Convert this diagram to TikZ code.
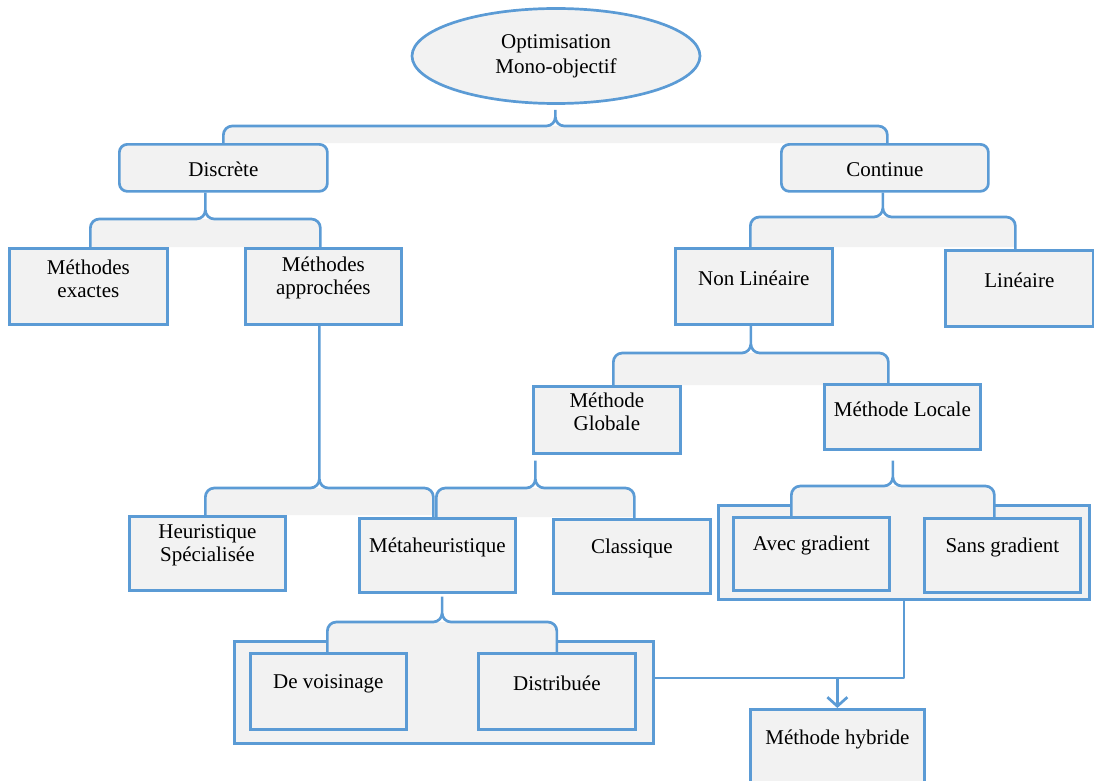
\documentclass[tikz,border=0pt]{standalone}
\usepackage{fontspec}
\setmainfont{Liberation Serif}
\usetikzlibrary{shapes.geometric,calc,arrows.meta,backgrounds}

\definecolor{lineblue}{HTML}{5B9BD5}
\definecolor{boxgray}{HTML}{F2F2F2}

% box content: fixed size, text centred and lifted a little towards the top
\newcommand\boxtext[3]{\parbox[c][#2pt][c]{#1pt}{\centering #3\par\vspace*{16pt}}}
% rectangular box: name, left, top, width, height, text
\newcommand\bnode[6]{\node[box] (#1) at (#2,-#3) {\boxtext{#4}{#5}{#6}};}
% brace from a parent down to two children:
% parent, left child, x offset, right child, x offset, bar depth, gap below parent
\newcommand\brc[7]{%
  \path[fill=boxgray] let \p1=($(#2.north)+(#3,0)$), \p2=($(#4.north)+(#5,0)$) in
    (\x1,\y1) -- (\x1,{-#6pt-9pt}) to[out=90,in=180] ({\x1+9pt},-#6pt)
    -- ({\x2-9pt},-#6pt) to[out=0,in=90] (\x2,{-#6pt-9pt}) -- (\x2,\y1) -- cycle;
  \draw[link] let \p1=($(#2.north)+(#3,0)$), \p2=($(#4.north)+(#5,0)$),
      \p3=(#1.south), \p4=($(\p1)!0.5!(\p2)$) in
    (\x1,\y1) -- (\x1,{-#6pt-9pt}) to[out=90,in=180] ({\x1+9pt},-#6pt)
    -- ({\x4-9pt},-#6pt) to[out=0,in=-90] (\x4,{-#6pt+9pt})
    to[out=-90,in=180] ({\x4+9pt},-#6pt)
    -- ({\x2-9pt},-#6pt) to[out=0,in=90] (\x2,{-#6pt-9pt}) -- (\x2,\y2)
    (\x4,{-#6pt+9pt}) -- (\x4,{\y3-#7pt});
}

\begin{document}
\begin{tikzpicture}[x=1pt,y=1pt,
  every node/.style={font=\fontsize{21}{23}\selectfont, text=black},
  link/.style={draw=lineblue, line width=2.7pt, line join=round},
  box/.style={draw=lineblue, fill=boxgray, line width=2.7pt, inner sep=0pt, anchor=north west},
  rbox/.style={box, rounded corners=8pt, text height=19pt, text depth=1pt},
  group/.style={box},
  root/.style={ellipse, draw=lineblue, fill=boxgray, line width=2.7pt, inner sep=0pt,
    minimum width=288, minimum height=95, align=center,
    font=\fontsize{21}{25}\selectfont}]
\useasboundingbox (0,0) rectangle (1094,-781);

% root and first level
\node[root] (opt) at (556,-56) {Optimisation\\Mono-objectif};
\node[rbox, minimum width=208, minimum height=47] (dis) at (118,-143) {Discrète};
\node[rbox, minimum width=207, minimum height=47] (con) at (780,-143) {Continue};

% second level
\bnode{exa}{8}{247}{158}{76}{Méthodes\\exactes}
\bnode{app}{244}{247}{156}{76}{Méthodes\\approchées}
\bnode{nl}{674}{247}{157}{76}{Non Linéaire}
\bnode{lin}{944}{249}{148}{76}{Linéaire}

% global / local methods
\bnode{glo}{532}{385}{147}{67}{Méthode\\Globale}
\bnode{loc}{823}{383}{156}{65}{Méthode Locale}

% fourth level
\bnode{heu}{128}{515}{156}{74}{Heuristique\\Spécialisée}
\bnode{meta}{358}{517}{156}{74}{Métaheuristique}
\bnode{cla}{552}{518}{157}{74}{Classique}
\bnode{avec}{732}{516}{156}{73}{Avec gradient}
\bnode{sans}{923}{517}{156}{74}{Sans gradient}

% metaheuristic families
\bnode{voi}{249}{652}{156}{76}{De voisinage}
\bnode{dist}{477}{652}{157}{76}{Distribuée}

% hybrid method
\bnode{hyb}{749}{708}{174}{76}{Méthode hybride}

\begin{pgfonlayer}{background}
  % grouping frames
  \node[group, minimum width=419, minimum height=102] (grpL) at (233,-640) {};
  \node[group, minimum width=371, minimum height=94] (grpR) at (717,-504) {};
  % braces
  \brc{opt}{dis}{0}{con}{2.5}{126}{5}
  \brc{dis}{exa}{2}{app}{-3}{219}{0}
  \brc{con}{nl}{-3.5}{lin}{-4}{217}{0}
  \brc{nl}{glo}{6.5}{loc}{-14}{353}{0}
  \brc{app}{heu}{-2}{meta}{-4}{488}{0}
  \brc{glo}{meta}{-1}{cla}{2.5}{488}{6}
  \brc{loc}{avec}{-20}{sans}{-8}{486}{10}
  \brc{meta}{voi}{-1}{dist}{0}{622}{3}
\end{pgfonlayer}

% both groups lead to the hybrid method
\coordinate (join) at ($(hyb.north)+(0,30)$);
\draw[link] (grpR.south) |- (join);
\draw[link] (grpL.east |- join) -- (join);
\draw[link, -{Straight Barb[length=9pt,width=20pt]}] (join) -- (hyb.north);
\end{tikzpicture}
\end{document}
